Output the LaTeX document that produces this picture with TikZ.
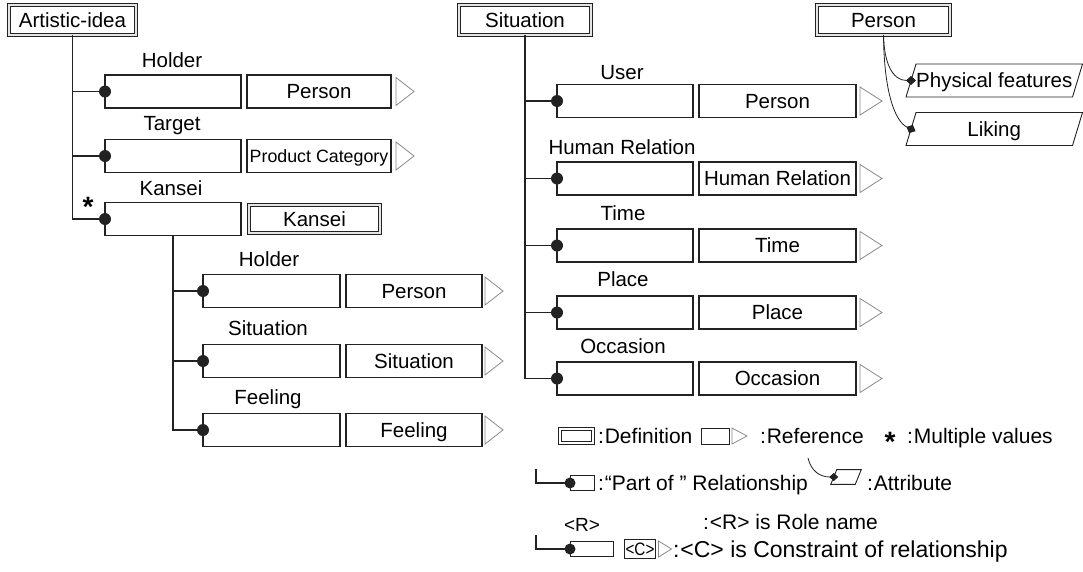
\documentclass[tikz,border=0pt]{standalone}
\usepackage{fontspec}
\setmainfont{Liberation Sans}
\usetikzlibrary{arrows.meta,calc}

\definecolor{ink}{HTML}{222222}
\definecolor{trig}{HTML}{8A8A8A}

% open reference triangle to the right of a node: #1 node, #2 gap, #3 width, #4 half height
\newcommand\reftri[4]{%
  \draw[tri] ($(#1.east)+(#2,-#4)$) -- ($(#1.east)+(#2+#3,0)$) -- ($(#1.east)+(#2,#4)$) -- cycle;}
% slanted attribute frame round a node: #1 node, #2 slant
\newcommand\parallelo[2]{%
  \draw[attrframe] ([xshift=-#2pt]#1.south west) -- ([xshift=#2pt]#1.north west)
    -- ([xshift=#2pt]#1.north east) -- ([xshift=-#2pt]#1.south east) -- cycle;}
% "part of" link from a trunk point to the left side of a part box, ending in a dot
\newcommand\partlink[3]{%
  \draw[part] (#1) |- (#2.west);
  \fill[ink] (#2.west) circle[radius=#3pt];}

\begin{document}
\begin{tikzpicture}[x=1pt,y=-1pt,
  every node/.style={font=\fontsize{20.5}{24}\selectfont, inner sep=0pt, outer sep=0pt},
  txt/.style={text height=14.7pt, text depth=0pt},
  role/.style={txt},
  partbox/.style={draw=ink, line width=1.1pt, minimum width=136pt, minimum height=33pt},
  refbox/.style={draw=ink, line width=1.1pt, minimum height=33pt, txt},
  defbox/.style={draw=ink, line width=0.9pt, double=gray!20, double distance=2pt, txt},
  attrbox/.style={minimum width=166.5pt, minimum height=33pt, txt},
  attrframe/.style={draw=ink, line width=0.9pt},
  part/.style={draw=ink, line width=1.1pt},
  attrlink/.style={draw=ink, line width=0.8pt, -{Diamond[length=10pt,width=9pt]}, shorten >=-5pt},
  tri/.style={draw=trig, line width=0.8pt},
  legtxt/.style={anchor=west, txt, font=\fontsize{21}{24}\selectfont},
  starmark/.style={anchor=base, font=\fontsize{28}{30}\selectfont\bfseries}
]
\fill[white] (0,0) rectangle (1083,571);
\useasboundingbox (0,0) rectangle (1083,571);

% ---------- Artistic-idea ----------
\node[defbox, minimum width=127pt, minimum height=30pt] (ai) at (72.5,20) {Artistic-idea};

\node[role] (aiHl) at (172,60) {Holder};
\node[partbox] (aiH) at (173,91.5) {};
\node[refbox, minimum width=144pt] (aiHr) at (319,91.5) {Person};
\reftri{aiHr}{5}{18}{14}

\node[role] (aiTl) at (172,123) {Target};
\node[partbox] (aiT) at (173,156) {};
\node[refbox, minimum width=144pt, font=\fontsize{17.8}{20}\selectfont, text height=12.7pt] (aiTr) at (319,156) {Product Category};
\reftri{aiTr}{5}{18}{14}

\node[role] (aiKl) at (171,188) {Kansei};
\node[starmark] (aiKs) at (88,216) {*};
\node[partbox] (aiK) at (173,219) {};
\node[defbox, minimum width=131pt, minimum height=28pt] (kd) at (314.5,219) {Kansei};

\partlink{ai.south}{aiH}{6}
\partlink{ai.south}{aiT}{6}
\partlink{ai.south}{aiK}{6}

% ---------- Kansei parts ----------
\node[role] (kHl) at (269,259) {Holder};
\node[partbox, minimum width=137pt] (kH) at (271.5,291) {};
\node[refbox, minimum width=136pt] (kHr) at (414,291) {Person};
\reftri{kHr}{3}{18}{14}

\node[role] (kSl) at (268,328) {Situation};
\node[partbox, minimum width=137pt] (kS) at (271.5,361) {};
\node[refbox, minimum width=136pt] (kSr) at (414,361) {Situation};
\reftri{kSr}{3}{18}{14}

\node[role] (kFl) at (268,397) {Feeling};
\node[partbox, minimum width=137pt] (kF) at (271.5,430) {};
\node[refbox, minimum width=136pt] (kFr) at (414,430) {Feeling};
\reftri{kFr}{3}{18}{14}

\partlink{aiK.south}{kH}{6}
\partlink{aiK.south}{kS}{6}
\partlink{aiK.south}{kF}{6}

% ---------- Situation ----------
\node[defbox, minimum width=132pt, minimum height=30pt] (sd) at (525,20) {Situation};

\node[role] (sUl) at (622,72) {User};
\node[partbox] (sU) at (625,101) {};
\node[refbox, minimum width=157pt] (sUr) at (777.5,101) {Person};
\reftri{sUr}{4}{22}{14}

\node[role] (sHl) at (622,147) {Human Relation};
\node[partbox] (sH) at (625,178.5) {};
\node[refbox, minimum width=157pt] (sHr) at (777.5,178.5) {Human Relation};
\reftri{sHr}{4}{22}{14}

\node[role] (sTl) at (623,213) {Time};
\node[partbox] (sT) at (625,245.5) {};
\node[refbox, minimum width=157pt] (sTr) at (777.5,245.5) {Time};
\reftri{sTr}{4}{22}{14}

\node[role] (sPl) at (623,279) {Place};
\node[partbox] (sP) at (625,312.5) {};
\node[refbox, minimum width=157pt] (sPr) at (777.5,312.5) {Place};
\reftri{sPr}{4}{22}{14}

\node[role] (sOl) at (623,346) {Occasion};
\node[partbox] (sO) at (625,378.5) {};
\node[refbox, minimum width=157pt] (sOr) at (777.5,378.5) {Occasion};
\reftri{sOr}{4}{22}{14}

\partlink{sd.south}{sU}{6}
\partlink{sd.south}{sH}{6}
\partlink{sd.south}{sT}{6}
\partlink{sd.south}{sP}{6}
\partlink{sd.south}{sO}{6}

% ---------- Person with attributes ----------
\node[defbox, minimum width=133pt, minimum height=30pt] (pd) at (883.5,20) {Person};
\node[attrbox] (pf) at (994.25,80.5) {Physical features};
\parallelo{pf}{5}
\node[attrbox] (lk) at (994.25,129) {Liking};
\parallelo{lk}{5}
\draw[attrlink] (pd.south) .. controls (884,62) and (892,80.5) .. (pf.west);
\draw[attrlink] (pd.south) .. controls (884,95) and (896,122) .. (lk.west);

% ---------- Legend ----------
\node[draw=ink, line width=0.8pt, minimum width=36pt, minimum height=17pt] (lgd) at (576,436) {};
\draw[ink, line width=0.8pt] ([xshift=3pt,yshift=-3pt]lgd.north west) rectangle ([xshift=-3pt,yshift=3pt]lgd.south east);
\node[legtxt] (lgdt) at (598,436) {:\kern1pt Definition};
\node[refbox, line width=0.9pt, minimum width=28pt, minimum height=16pt] (lgr) at (715,436) {};
\reftri{lgr}{3}{15}{8}
\node[legtxt] (lgrt) at (760,436) {:\kern1pt Reference};
\node[starmark] (lgs) at (890,451) {*};
\node[legtxt] (lgst) at (907,436) {:\kern1pt Multiple values};

\coordinate (lgc1) at (536,469);
\node[partbox, line width=0.9pt, minimum width=24pt, minimum height=15pt] (lgp) at (582,483) {};
\partlink{lgc1}{lgp}{5.5}
\node[legtxt] (lgpt) at (598,483) {:\kern1pt“Part of ” Relationship};
\coordinate (lgcv) at (808,458);
\node[attrbox, minimum width=24.5pt, minimum height=14pt] (lga) at (846,477) {};
\parallelo{lga}{3}
\draw[attrlink, -{Diamond[length=9pt,width=8pt]}, shorten >=-4.5pt] (lgcv) .. controls (811,471) and (820,477) .. (lga.west);
\node[legtxt] (lgat) at (867,483) {:\kern1pt Attribute};

\node[txt, font=\fontsize{19}{22}\selectfont, text height=13.6pt] (lgR) at (582,525) {<R>};
\node[legtxt] (lgRt) at (703,522) {:\kern1pt<R> is Role name};

\coordinate (lgc2) at (536,535);
\node[partbox, line width=0.9pt, minimum width=43pt, minimum height=15pt] (lgp2) at (591.5,549) {};
\partlink{lgc2}{lgp2}{5.5}
\node[refbox, line width=0.9pt, minimum width=31pt, minimum height=19pt, font=\fontsize{18}{20}\selectfont, text height=12.9pt] (lgC) at (640,549) {\scalebox{0.85}[1]{<C>}};
\reftri{lgC}{3}{13}{8}
\node[legtxt, font=\fontsize{23}{26}\selectfont, text height=16.5pt] (lgCt) at (673,549) {:\kern1pt<C> is Constraint of relationship};
\end{tikzpicture}
\end{document}
